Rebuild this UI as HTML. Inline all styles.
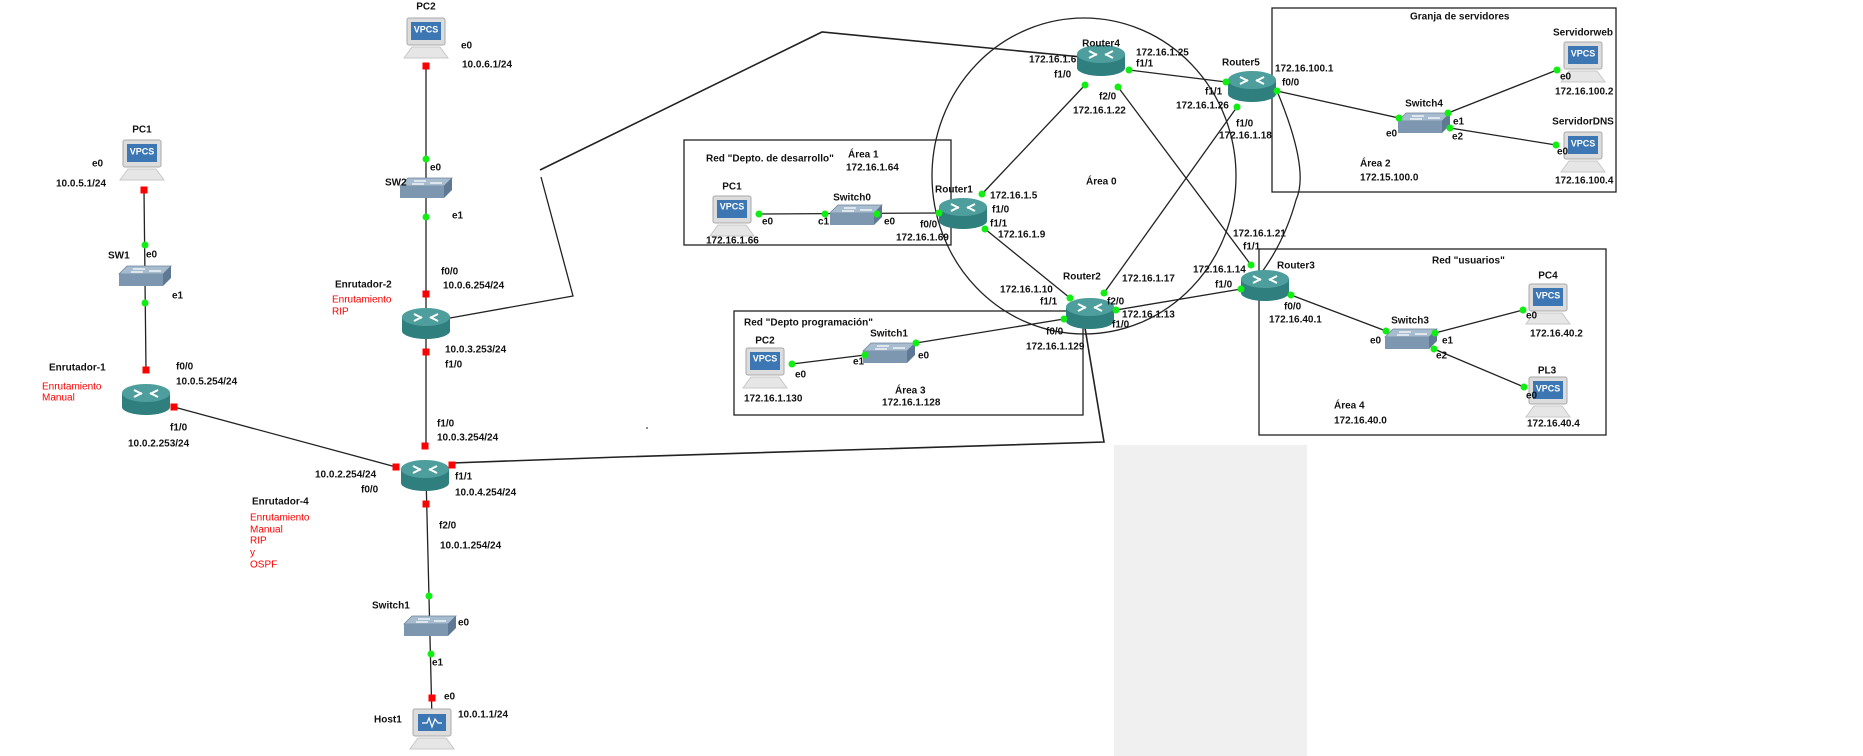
<!DOCTYPE html>
<html><head><meta charset="utf-8"><style>
html,body{margin:0;padding:0;background:#fff}
svg{display:block}
text{font-family:"Liberation Sans",sans-serif;font-weight:bold;font-size:10px;fill:#111;dominant-baseline:middle}
.r{fill:#f00;font-weight:normal;font-size:10px}
.v{fill:#fff;font-size:9px;font-weight:bold;text-anchor:middle}
.c{text-anchor:middle}
</style></head><body>
<svg width="1863" height="756" viewBox="0 0 1863 756" xmlns="http://www.w3.org/2000/svg">
<defs>
<g id="rt">
<path d="M-24,-6 L-24,8 A24,8 0 0 0 24,8 L24,-6 Z" fill="#2f7f7f"/>
<ellipse cx="0" cy="-6" rx="24" ry="9" fill="#4e9e9e"/>
<path d="M-12,-9 L-4,-5 M12,-9 L4,-5 M-12,-2 L-4,-6 M12,-2 L4,-6" stroke="#fff" stroke-width="2"/>
</g>
<g id="sw">
<path d="M-26,-2 L-18,-10 L26,-10 L18,-2 Z" fill="#a8bccf" stroke="#6e849a" stroke-width="0.8"/>
<path d="M-26,-2 L18,-2 L18,10 L-26,10 Z" fill="#7d97b0"/>
<path d="M18,-2 L26,-10 L26,2 L18,10 Z" fill="#5f7893"/>
<path d="M-12,-7 L0,-7 M4,-5 L16,-5 M-14,-4 L-2,-4" stroke="#fff" stroke-width="1.2"/>
</g>
<g id="pc">
<rect x="-19" y="-20" width="38" height="27" rx="2" fill="#dcdcdc" stroke="#aaa"/>
<rect x="-15" y="-16" width="30" height="18" fill="#3c77b3"/>
<path d="M-14,9 L14,9 L22,20 L-22,20 Z" fill="#e6e6e6" stroke="#c8c8c8"/>
</g>
<g id="hs">
<rect x="-19" y="-20" width="38" height="27" rx="2" fill="#dcdcdc" stroke="#aaa"/>
<rect x="-14" y="-15" width="28" height="17" fill="#3c77b3"/>
<path d="M-10,-6 L-5,-6 L-3,-11 L0,-2 L3,-10 L6,-6 L10,-6" stroke="#fff" fill="none" stroke-width="1.2"/>
<path d="M-14,9 L14,9 L22,20 L-22,20 Z" fill="#e6e6e6" stroke="#c8c8c8"/>
</g>
<rect id="rs" x="-3.5" y="-3.5" width="7" height="7" fill="#f00"/>
<circle id="gd" r="3.5" fill="#1e1"/>
</defs>

<rect x="1114" y="445" width="193" height="311" fill="#f0f0f0"/>

<!-- boxes -->
<g fill="none" stroke="#222" stroke-width="1.3">
<rect x="684" y="140" width="267" height="105"/>
<rect x="734" y="311" width="349" height="104"/>
<rect x="1272" y="8" width="344" height="184"/>
<rect x="1259" y="249" width="347" height="186"/>
<ellipse cx="1084" cy="176" rx="152" ry="158"/>
</g>

<!-- links -->
<g stroke="#222" stroke-width="1.3" fill="none">
<line x1="426" y1="66" x2="426" y2="446"/>
<line x1="144" y1="190" x2="146" y2="370"/>
<line x1="174" y1="407" x2="396" y2="467"/>
<line x1="426" y1="475" x2="432" y2="720"/>
<polyline points="450,318 573,296 541,177"/>
<polyline points="540,170 822,32 1082,57" stroke-width="1.6"/>
<polyline points="452,463 620,457 1104,442 1085,328" stroke-width="1.6"/>
<line x1="759" y1="214" x2="939" y2="213"/>
<line x1="982" y1="194" x2="1085" y2="85"/>
<line x1="985" y1="229" x2="1070" y2="298"/>
<line x1="1118" y1="87" x2="1251" y2="265"/>
<line x1="1129" y1="70" x2="1226" y2="82"/>
<line x1="1104" y1="293" x2="1237" y2="107"/>
<line x1="1116" y1="310" x2="1241" y2="289"/>
<line x1="1064" y1="319" x2="916" y2="343"/>
<line x1="792" y1="364" x2="865" y2="355"/>
<path d="M1277,91 Q1310,170 1296,200 Q1285,240 1262,272"/>
<line x1="1277" y1="91" x2="1399" y2="118"/>
<line x1="1448" y1="113" x2="1557" y2="70"/>
<line x1="1450" y1="128" x2="1556" y2="145"/>
<line x1="1291" y1="295" x2="1386" y2="331"/>
<line x1="1435" y1="333" x2="1523" y2="310"/>
<line x1="1434" y1="349" x2="1524" y2="387"/>
</g>
<circle cx="647" cy="428" r="0.8" fill="#000"/>

<!-- devices left -->
<use href="#pc" x="426" y="38"/><text class="v" x="426" y="30">VPCS</text>
<use href="#sw" x="426" y="188"/>
<use href="#rt" x="426" y="323"/>
<use href="#pc" x="142" y="160"/><text class="v" x="142" y="152">VPCS</text>
<use href="#sw" x="145" y="276"/>
<use href="#rt" x="146" y="399"/>
<use href="#rt" x="425" y="475"/>
<use href="#sw" x="430" y="626"/>
<use href="#hs" x="432" y="729"/>

<!-- devices right -->
<use href="#rt" x="1101" y="60"/>
<use href="#rt" x="1252" y="86"/>
<use href="#rt" x="963" y="213"/>
<use href="#rt" x="1090" y="313"/>
<use href="#rt" x="1265" y="285"/>
<use href="#sw" x="856" y="215"/>
<use href="#sw" x="889" y="353"/>
<use href="#sw" x="1424" y="123"/>
<use href="#sw" x="1411" y="339"/>
<use href="#pc" x="732" y="216"/><text class="v" x="732" y="207">VPCS</text>
<use href="#pc" x="765" y="368"/><text class="v" x="765" y="359">VPCS</text>
<use href="#pc" x="1583" y="62"/><text class="v" x="1583" y="54">VPCS</text>
<use href="#pc" x="1583" y="152"/><text class="v" x="1583" y="144">VPCS</text>
<use href="#pc" x="1548" y="304"/><text class="v" x="1548" y="296">VPCS</text>
<use href="#pc" x="1548" y="397"/><text class="v" x="1548" y="389">VPCS</text>

<!-- port markers left -->
<use href="#rs" x="426" y="66"/><use href="#gd" x="426" y="159"/><use href="#gd" x="426" y="217"/>
<use href="#rs" x="426" y="294"/><use href="#rs" x="426" y="352"/>
<use href="#rs" x="144" y="190"/><use href="#gd" x="145" y="245"/><use href="#gd" x="145" y="303"/>
<use href="#rs" x="146" y="370"/><use href="#rs" x="174" y="407"/>
<use href="#rs" x="425" y="446"/><use href="#rs" x="396" y="467"/><use href="#rs" x="452" y="465"/><use href="#rs" x="426" y="504"/>
<use href="#gd" x="429" y="596"/><use href="#gd" x="431" y="654"/><use href="#rs" x="432" y="698"/>

<!-- port markers right -->
<g>
<use href="#gd" x="759" y="214"/><use href="#gd" x="825" y="214"/><use href="#gd" x="877" y="214"/><use href="#gd" x="939" y="213"/>
<use href="#gd" x="982" y="194"/><use href="#gd" x="985" y="229"/>
<use href="#gd" x="1085" y="85"/><use href="#gd" x="1118" y="87"/><use href="#gd" x="1129" y="70"/>
<use href="#gd" x="1226" y="82"/><use href="#gd" x="1237" y="107"/><use href="#gd" x="1277" y="91"/>
<use href="#gd" x="1070" y="298"/><use href="#gd" x="1104" y="293"/><use href="#gd" x="1116" y="310"/><use href="#gd" x="1064" y="319"/>
<use href="#gd" x="1251" y="265"/><use href="#gd" x="1241" y="289"/><use href="#gd" x="1291" y="295"/>
<use href="#gd" x="792" y="364"/><use href="#gd" x="865" y="355"/><use href="#gd" x="916" y="343"/>
<use href="#gd" x="1399" y="118"/><use href="#gd" x="1448" y="113"/><use href="#gd" x="1450" y="128"/>
<use href="#gd" x="1557" y="70"/><use href="#gd" x="1556" y="145"/>
<use href="#gd" x="1386" y="331"/><use href="#gd" x="1435" y="333"/><use href="#gd" x="1434" y="349"/>
<use href="#gd" x="1523" y="310"/><use href="#gd" x="1524" y="387"/>
</g>

<!-- left labels -->
<text class="c" x="426" y="7">PC2</text>
<text x="461" y="46">e0</text>
<text x="462" y="65">10.0.6.1/24</text>
<text x="430" y="168">e0</text>
<text x="385" y="183">SW2</text>
<text x="452" y="216">e1</text>
<text x="441" y="272">f0/0</text>
<text x="443" y="286">10.0.6.254/24</text>
<text x="335" y="285">Enrutador-2</text>
<text class="r" x="332" y="300">Enrutamiento</text>
<text class="r" x="332" y="312">RIP</text>
<text x="445" y="350">10.0.3.253/24</text>
<text x="445" y="365">f1/0</text>
<text class="c" x="142" y="130">PC1</text>
<text x="92" y="164">e0</text>
<text x="56" y="184">10.0.5.1/24</text>
<text x="108" y="256">SW1</text>
<text x="146" y="255">e0</text>
<text x="172" y="296">e1</text>
<text x="49" y="368">Enrutador-1</text>
<text x="176" y="367">f0/0</text>
<text x="176" y="382">10.0.5.254/24</text>
<text class="r" x="42" y="387">Enrutamiento</text>
<text class="r" x="42" y="398">Manual</text>
<text x="170" y="428">f1/0</text>
<text x="128" y="444">10.0.2.253/24</text>
<text x="437" y="424">f1/0</text>
<text x="437" y="438">10.0.3.254/24</text>
<text x="315" y="475">10.0.2.254/24</text>
<text x="361" y="490">f0/0</text>
<text x="455" y="477">f1/1</text>
<text x="455" y="493">10.0.4.254/24</text>
<text x="252" y="502">Enrutador-4</text>
<text class="r" x="250" y="518">Enrutamiento</text>
<text class="r" x="250" y="530">Manual</text>
<text class="r" x="250" y="541">RIP</text>
<text class="r" x="250" y="553">y</text>
<text class="r" x="250" y="565">OSPF</text>
<text x="439" y="526">f2/0</text>
<text x="440" y="546">10.0.1.254/24</text>
<text x="372" y="606">Switch1</text>
<text x="458" y="623">e0</text>
<text x="432" y="663">e1</text>
<text x="444" y="697">e0</text>
<text x="374" y="720">Host1</text>
<text x="458" y="715">10.0.1.1/24</text>

<!-- right labels -->
<g style="font-size:9px">
<text class="c" x="1101" y="44">Router4</text>
<text x="1029" y="60">172.16.1.6</text>
<text x="1054" y="75">f1/0</text>
<text x="1136" y="53">172.16.1.25</text>
<text x="1136" y="64">f1/1</text>
<text x="1099" y="97">f2/0</text>
<text x="1073" y="111">172.16.1.22</text>
<text x="1222" y="63">Router5</text>
<text x="1205" y="92">f1/1</text>
<text x="1176" y="106">172.16.1.26</text>
<text x="1236" y="124">f1/0</text>
<text x="1219" y="136">172.16.1.18</text>
<text x="1275" y="69">172.16.100.1</text>
<text x="1282" y="83">f0/0</text>
<text x="1410" y="17">Granja de servidores</text>
<text class="c" x="1583" y="33">Servidorweb</text>
<text x="1560" y="77">e0</text>
<text x="1555" y="92">172.16.100.2</text>
<text class="c" x="1424" y="104">Switch4</text>
<text x="1386" y="134">e0</text>
<text x="1453" y="122">e1</text>
<text x="1452" y="137">e2</text>
<text class="c" x="1583" y="122">ServidorDNS</text>
<text x="1557" y="152">e0</text>
<text x="1555" y="181">172.16.100.4</text>
<text x="1360" y="164">Área 2</text>
<text x="1360" y="178">172.15.100.0</text>
<text x="706" y="159">Red "Depto. de desarrollo"</text>
<text x="848" y="155">Área 1</text>
<text x="846" y="168">172.16.1.64</text>
<text class="c" x="732" y="187">PC1</text>
<text x="762" y="222">e0</text>
<text x="818" y="222">c1</text>
<text class="c" x="852" y="198">Switch0</text>
<text x="884" y="222">e0</text>
<text x="920" y="225">f0/0</text>
<text x="896" y="238">172.16.1.69</text>
<text x="706" y="241">172.16.1.66</text>
<text x="935" y="190">Router1</text>
<text x="990" y="196">172.16.1.5</text>
<text x="992" y="210">f1/0</text>
<text x="990" y="224">f1/1</text>
<text x="998" y="235">172.16.1.9</text>
<text x="1086" y="182">Área 0</text>
<text x="1063" y="277">Router2</text>
<text x="1000" y="290">172.16.1.10</text>
<text x="1040" y="302">f1/1</text>
<text x="1122" y="279">172.16.1.17</text>
<text x="1107" y="302">f2/0</text>
<text x="1122" y="315">172.16.1.13</text>
<text x="1112" y="325">f1/0</text>
<text x="1046" y="332">f0/0</text>
<text x="1026" y="347">172.16.1.129</text>
<text x="1233" y="234">172.16.1.21</text>
<text x="1243" y="247">f1/1</text>
<text x="1193" y="270">172.16.1.14</text>
<text x="1215" y="285">f1/0</text>
<text x="1277" y="266">Router3</text>
<text x="1284" y="307">f0/0</text>
<text x="1269" y="320">172.16.40.1</text>
<text x="1432" y="261">Red "usuarios"</text>
<text class="c" x="1410" y="321">Switch3</text>
<text x="1370" y="341">e0</text>
<text x="1442" y="341">e1</text>
<text x="1436" y="356">e2</text>
<text class="c" x="1548" y="276">PC4</text>
<text x="1526" y="316">e0</text>
<text x="1530" y="334">172.16.40.2</text>
<text class="c" x="1547" y="371">PL3</text>
<text x="1526" y="396">e0</text>
<text x="1527" y="424">172.16.40.4</text>
<text x="1334" y="406">Área 4</text>
<text x="1334" y="421">172.16.40.0</text>
<text x="744" y="323">Red "Depto programación"</text>
<text class="c" x="765" y="341">PC2</text>
<text x="795" y="375">e0</text>
<text x="744" y="399">172.16.1.130</text>
<text x="853" y="362">e1</text>
<text class="c" x="889" y="334">Switch1</text>
<text x="918" y="356">e0</text>
<text x="895" y="391">Área 3</text>
<text x="882" y="403">172.16.1.128</text>
</g>
</svg>
</body></html>
